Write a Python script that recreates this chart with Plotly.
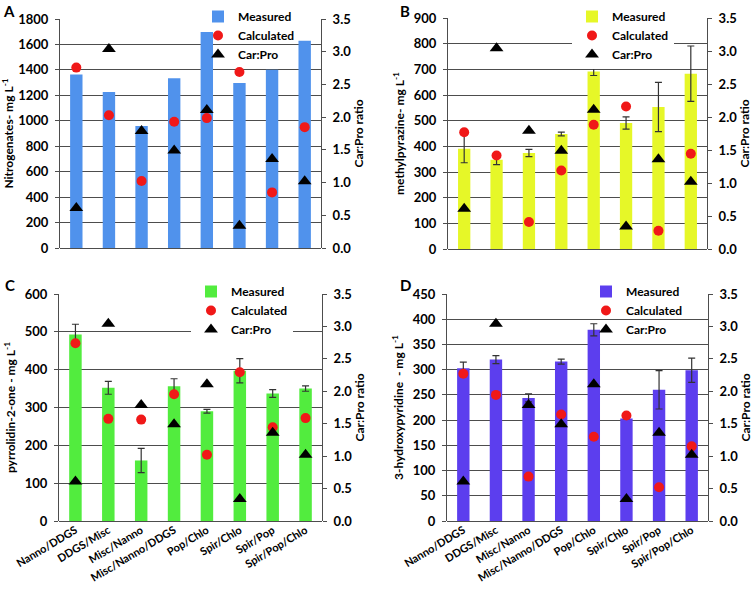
import plotly.graph_objects as go

categories = ["Nanno/DDGS", "DDGS/Misc", "Misc/Nanno", "Misc/Nanno/DDGS",
              "Pop/Chlo", "Spir/Chlo", "Spir/Pop", "Spir/Pop/Chlo"]
car_pro = [0.61, 3.04, 1.79, 1.49, 2.11, 0.34, 1.36, 1.02]

nitro_measured = [1363, 1227, 958, 1334, 1698, 1297, 1402, 1630]
nitro_calc = [1418, 1044, 527, 992, 1021, 1384, 437, 950]

mp_measured = [391, 348, 374, 448, 692, 491, 553, 683]
mp_err = [55, 19, 14, 7, 16, 24, 96, 108]
mp_calc = [455, 364, 105, 306, 484, 555, 71, 371]

pyr_measured = [493, 352, 160, 356, 290, 397, 337, 350]
pyr_err = [27, 17, 32, 20, 5, 32, 10, 7]
pyr_calc = [470, 270, 268, 335, 175, 393, 248, 272]

hp_measured = [303, 320, 244, 316, 379, 203, 260, 299]
hp_err = [12, 8, 8, 5, 12, 0, 38, 24]
hp_calc = [292, 250, 88, 211, 167, 209, 67, 148]

W, H = 756, 589
FONT = "Lato"
GRID = "#4d4d4d"


def f(size):
    return dict(family=FONT, size=size, color="black", weight="bold")


panels = [
    dict(letter="A", measured=nitro_measured, err=None, calc=nitro_calc,
         color="rgb(80,146,236)", ytitle="Nitrogenates- mg L<sup>-1</sup>",
         yrange=1800, dtick=200, px=(60, 321), py=(19, 248),
         legend_xy=(198, 2), legend_bg="rgba(0,0,0,0)", letter_xy=(9, 0), labels=False),
    dict(letter="B", measured=mp_measured, err=mp_err, calc=mp_calc,
         color="rgb(230,247,40)", ytitle="methylpyrazine- mg L<sup>-1</sup>",
         yrange=900, dtick=100, px=(448, 707), py=(18, 249),
         legend_xy=(572, 2), legend_bg="white", letter_xy=(405, 0), labels=False),
    dict(letter="C", measured=pyr_measured, err=pyr_err, calc=pyr_calc,
         color="rgb(82,236,62)", ytitle="pyrrolidin-2-one - mg L<sup>-1</sup>",
         yrange=600, dtick=100, px=(59, 322), py=(294, 521),
         legend_xy=(191, 277), legend_bg="white", letter_xy=(10, 274), labels=True),
    dict(letter="D", measured=hp_measured, err=hp_err, calc=hp_calc,
         color="rgb(92,62,238)", ytitle="3-hydroxypyridine  - mg L<sup>-1</sup>",
         yrange=450, dtick=50, px=(447, 708), py=(294, 521),
         legend_xy=(586, 277), legend_bg="rgba(0,0,0,0)", letter_xy=(405, 274), labels=True),
]

fig = go.Figure()
layout = dict(
    width=W, height=H, margin=dict(l=0, r=0, t=0, b=0),
    paper_bgcolor="white", plot_bgcolor="white",
    font=f(12),
    annotations=[],
)

for i, p in enumerate(panels):
    xa = "x" if i == 0 else f"x{i+1}"
    yl = "y" if i == 0 else f"y{2*i+1}"
    yr = f"y{2*i+2}"
    leg = "legend" if i == 0 else f"legend{i+1}"
    bar_kw = dict(x=categories, y=p["measured"], name="Measured",
                  marker=dict(color=p["color"], line=dict(width=0)),
                  xaxis=xa, yaxis=yl, legend=leg, width=0.38)
    if p["err"] is not None:
        bar_kw["error_y"] = dict(type="data", array=p["err"], visible=True,
                                 color="#333333", thickness=1.2, width=3.5)
    fig.add_trace(go.Bar(**bar_kw))
    fig.add_trace(go.Scatter(x=categories, y=p["calc"], name="Calculated", mode="markers",
                             marker=dict(color="rgb(240,24,24)", size=10, symbol="circle"),
                             xaxis=xa, yaxis=yl, legend=leg))
    fig.add_trace(go.Scatter(x=categories, y=car_pro, name="Car:Pro", mode="markers",
                             marker=dict(color="black", size=12, symbol="triangle-up"),
                             xaxis=xa, yaxis=yr, legend=leg))

    x0, x1 = p["px"]
    ytop, ybot = p["py"]
    dx = [x0 / W, x1 / W]
    dy = [1 - ybot / H, 1 - ytop / H]
    xkey = "xaxis" if i == 0 else f"xaxis{i+1}"
    ylkey = "yaxis" if i == 0 else f"yaxis{2*i+1}"
    yrkey = f"yaxis{2*i+2}"
    layout[xkey] = dict(domain=dx, anchor=yl, type="category",
                        categoryorder="array", categoryarray=categories,
                        range=[-0.5, len(categories) - 0.5],
                        showline=False, showgrid=False, ticks="",
                        showticklabels=p["labels"], tickangle=-31,
                        tickfont=f(11), automargin=False)
    layout[ylkey] = dict(domain=dy, anchor=xa, range=[0, p["yrange"]], dtick=p["dtick"],
                         showgrid=True, gridcolor=GRID, gridwidth=1,
                         zeroline=True, zerolinecolor=GRID, zerolinewidth=1,
                         showline=True, linecolor=GRID, linewidth=1,
                         ticks="outside", ticklen=4, tickcolor=GRID,
                         ticklabelstandoff=4,
                         tickfont=f(13),
                         title=dict(text=p["ytitle"], font=f(12), standoff=6),
                         automargin=False)
    layout[yrkey] = dict(domain=dy, anchor=xa, overlaying=yl, side="right",
                         range=[0, 3.5], dtick=0.5, tickformat=".1f",
                         showgrid=False, zeroline=False,
                         showline=True, linecolor=GRID, linewidth=1,
                         ticks="outside", ticklen=4, tickcolor=GRID,
                         ticklabelstandoff=4,
                         tickfont=f(13),
                         title=dict(text="Car:Pro ratio", font=f(12), standoff=4),
                         automargin=False)
    lx, ly = p["legend_xy"]
    layout[leg] = dict(x=lx / W, y=1 - ly / H, xanchor="left", yanchor="top",
                       xref="paper", yref="paper",
                       bgcolor=p["legend_bg"], borderwidth=0,
                       font=f(12), tracegroupgap=0, itemwidth=30)
    ax_, ay_ = p["letter_xy"]
    layout["annotations"].append(dict(text=p["letter"], x=ax_ / W, y=1 - ay_ / H,
                                      xref="paper", yref="paper", showarrow=False,
                                      xanchor="center", yanchor="top",
                                      font=f(15)))

fig.update_layout(**layout)
fig.write_html("out.html", config={"displayModeBar": False},
               post_script="document.body.style.margin='0px';")
